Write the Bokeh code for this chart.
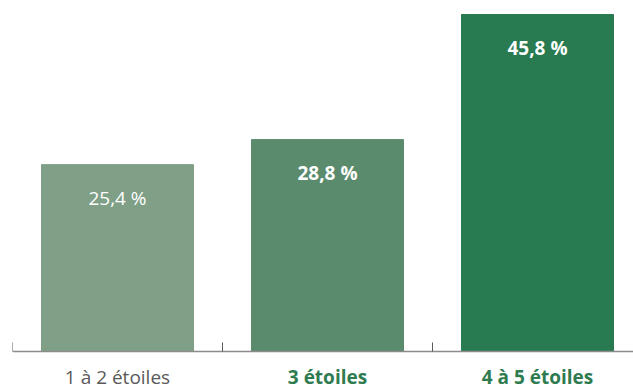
from bokeh.plotting import figure
from bokeh.models import Range1d, LinearAxis, FixedTicker, ColumnDataSource
from bokeh.core.properties import value
from bokeh.embed import file_html
from bokeh.resources import INLINE

categories = ["1 à 2 étoiles", "3 étoiles", "4 à 5 étoiles"]
values = [25.4, 28.8, 45.8]
value_labels = ["25,4 %", "28,8 %", "45,8 %"]
bar_colors = ["#7F9F87", "#5A8B6C", "#287A50"]
category_colors = ["#595959", "#2E7B4F", "#2E7B4F"]
category_styles = ["normal", "bold", "bold"]
value_styles = ["normal", "bold", "bold"]
tick_positions = [0, 1, 2, 3]

xs = [i + 0.5 for i in range(len(categories))]
px_per_unit = 382 / 51.92

src = ColumnDataSource(dict(
    x=xs, top=values, color=bar_colors,
    vlab=value_labels, vy=[v - 33 / px_per_unit for v in values], vstyle=value_styles,
    cat=categories, cy=[-25.5 / px_per_unit] * len(categories),
    ccolor=category_colors, cstyle=category_styles,
))

p = figure(width=633, height=390, output_backend="svg", toolbar_location=None,
           x_range=Range1d(0, 621 / 210), y_range=Range1d(-5.30, 46.62),
           x_axis_location=None, y_axis_location=None,
           min_border=0, min_border_left=12, min_border_top=8, min_border_right=0)
p.outline_line_color = None
p.xgrid.visible = False
p.ygrid.visible = False
p.background_fill_color = "white"

p.vbar(x="x", top="top", bottom=0, width=152 / 210, color="color", source=src)

p.text(x="x", y="vy", text="vlab", source=src, text_color="white",
       text_font=value("Open Sans"), text_font_size="19px", text_font_style="vstyle",
       text_align="center", text_baseline="middle")
p.text(x="x", y="cy", text="cat", source=src, text_color="ccolor",
       text_font=value("Open Sans"), text_font_size="19px", text_font_style="cstyle",
       text_align="center", text_baseline="middle")

ax = LinearAxis(fixed_location=0, ticker=FixedTicker(ticks=tick_positions))
ax.major_tick_in = 9
ax.major_tick_out = 0
ax.minor_tick_line_color = None
ax.major_label_overrides = {t: "" for t in tick_positions}
ax.axis_line_color = "#8C8C8C"
ax.axis_line_width = 1.5
ax.major_tick_line_color = "#595959"
p.add_layout(ax, "below")

open("out.html", "w").write(file_html(p, INLINE))
